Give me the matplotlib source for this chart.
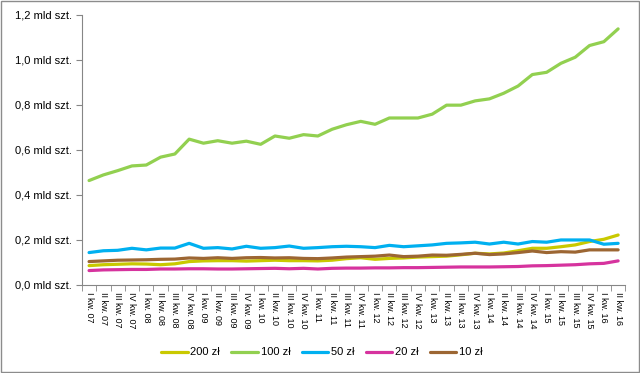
import numpy as np
import matplotlib.pyplot as plt
from matplotlib.patches import Rectangle

years = ['07', '08', '09', '10', '11', '12', '13', '14', '15', '16']
quarters = ['I', 'II', 'III', 'IV']
labels = [q + ' kw. ' + y for y in years for q in quarters][:38]

zl200 = [0.086, 0.090, 0.092, 0.094, 0.093, 0.090, 0.094, 0.104, 0.107, 0.108,
         0.108, 0.106, 0.108, 0.110, 0.108, 0.108, 0.107, 0.110, 0.117, 0.121,
         0.114, 0.118, 0.120, 0.124, 0.126, 0.128, 0.134, 0.141, 0.138, 0.142,
         0.152, 0.163, 0.163, 0.170, 0.178, 0.193, 0.203, 0.222]
zl100 = [0.464, 0.489, 0.508, 0.529, 0.533, 0.568, 0.582, 0.648, 0.630, 0.641,
         0.630, 0.639, 0.625, 0.662, 0.652, 0.668, 0.662, 0.692, 0.712, 0.727,
         0.714, 0.742, 0.742, 0.742, 0.759, 0.799, 0.799, 0.818, 0.827, 0.852,
         0.884, 0.935, 0.945, 0.985, 1.012, 1.064, 1.081, 1.138]
zl50 = [0.144, 0.152, 0.154, 0.163, 0.156, 0.164, 0.164, 0.185, 0.163, 0.166,
        0.160, 0.172, 0.163, 0.166, 0.173, 0.163, 0.166, 0.170, 0.172, 0.170,
        0.166, 0.176, 0.170, 0.174, 0.178, 0.185, 0.187, 0.190, 0.182, 0.190,
        0.182, 0.193, 0.190, 0.200, 0.200, 0.200, 0.181, 0.185]
zl20 = [0.064, 0.067, 0.068, 0.069, 0.069, 0.071, 0.071, 0.072, 0.072, 0.071,
        0.071, 0.072, 0.073, 0.074, 0.072, 0.074, 0.071, 0.074, 0.075, 0.075,
        0.076, 0.076, 0.077, 0.077, 0.078, 0.079, 0.080, 0.080, 0.080, 0.081,
        0.082, 0.085, 0.086, 0.088, 0.090, 0.094, 0.096, 0.107]
zl10 = [0.104, 0.107, 0.110, 0.111, 0.112, 0.114, 0.115, 0.120, 0.118, 0.121,
        0.118, 0.121, 0.122, 0.120, 0.121, 0.118, 0.117, 0.120, 0.124, 0.126,
        0.128, 0.133, 0.126, 0.128, 0.133, 0.132, 0.136, 0.141, 0.135, 0.138,
        0.144, 0.151, 0.144, 0.148, 0.146, 0.156, 0.156, 0.156]

series = [('200 zł', zl200, '#C9C900'),
          ('100 zł', zl100, '#92D050'),
          ('50 zł', zl50, '#00B0F0'),
          ('20 zł', zl20, '#D6339E'),
          ('10 zł', zl10, '#9C6633')]

plt.rcParams['font.family'] = ['Liberation Sans', 'DejaVu Sans']

fig = plt.figure(figsize=(6.4, 3.73), dpi=100)
ax = fig.add_axes([0.128, 0.236, 0.849, 0.724])
fig.patches.append(Rectangle((0.001, 0.002), 0.997, 0.995, transform=fig.transFigure,
                             fill=False, edgecolor='#8c8c8c', lw=1))

x = np.arange(len(labels))
for name, vals, col in series:
    ax.plot(x, vals, color=col, lw=2.3, label=name, solid_capstyle='round')

ax.set_xlim(-0.5, len(labels) - 0.5)
ax.set_ylim(0, 1.2)
yt = np.arange(0, 1.21, 0.2)
ax.set_yticks(yt)
ax.set_yticklabels([('%.1f' % v).replace('.', ',') + ' mld szt.' for v in yt], fontsize=8)
ax.set_xticks(x)
ax.set_xticklabels(labels, rotation=-90, fontsize=6.5, va='top', ha='center')
ax.set_xticks(np.arange(-0.5, len(labels), 1), minor=True)
ax.tick_params(axis='x', which='major', length=0, pad=5)
ax.tick_params(axis='x', which='minor', length=4, color='#868686', direction='out')
ax.tick_params(axis='y', length=4, color='#868686', direction='out', pad=3)

for s in ['top', 'right']:
    ax.spines[s].set_visible(False)
for s in ['left', 'bottom']:
    ax.spines[s].set_color('#868686')

fig.legend(loc='center', bbox_to_anchor=(0.503, 0.055), ncol=5, frameon=False,
           fontsize=8, handlelength=2.4, handletextpad=0.25, columnspacing=1.0)

plt.savefig('out.png', dpi=100)
